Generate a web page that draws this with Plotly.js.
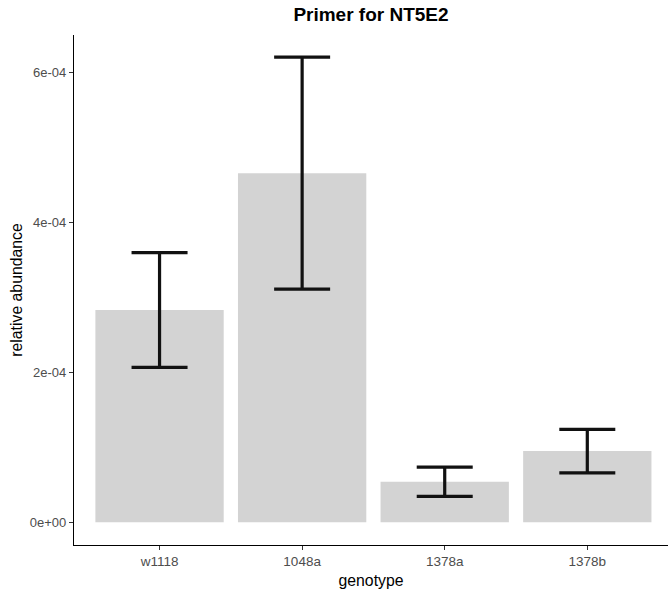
<!DOCTYPE html>
<html>
<head>
<meta charset="utf-8">
<script src="https://cdn.plot.ly/plotly-3.0.1.min.js"></script>
<style>html,body{margin:0;padding:0;background:#fff;}#chart{width:668px;height:592px;}</style>
</head>
<body>
<div id="chart"></div>
<script>
const genotypes = ["w1118", "1048a", "1378a", "1378b"];
const abundance = [2.83e-4, 4.655e-4, 5.4e-5, 9.5e-5];
const errorSize = [7.65e-5, 1.546e-4, 1.95e-5, 2.9e-5];
const yTickVals = [0, 2e-4, 4e-4, 6e-4];
const yTickText = ["0e+00", "2e-04", "4e-04", "6e-04"];

const trace = {
  type: "bar",
  x: genotypes,
  y: abundance,
  width: 0.9,
  marker: {color: "#D3D3D3", line: {width: 0}},
  error_y: {type: "data", array: errorSize, visible: true, color: "#111111", thickness: 3.2, width: 28},
  hoverinfo: "skip"
};

const layout = {
  width: 668, height: 592,
  margin: {l: 74, r: 0, t: 35, b: 47, pad: 0},
  paper_bgcolor: "#ffffff", plot_bgcolor: "#ffffff",
  font: {family: "Liberation Sans, Arial, sans-serif", color: "#4D4D4D"},
  showlegend: false,
  bargap: 0.1,
  title: {text: "<b>Primer for NT5E2</b>", font: {size: 19, color: "#000000"}, x: 0.5, xref: "paper", xanchor: "center", y: 0.976, yref: "container", yanchor: "middle"},
  xaxis: {
    type: "category", range: [-0.6, 3.566], fixedrange: true,
    showline: true, linecolor: "#000000", linewidth: 1.2,
    ticks: "outside", ticklen: 4, tickcolor: "#333333", tickwidth: 1,
    showgrid: false, zeroline: false,
    tickfont: {size: 13.5, color: "#4D4D4D"},
    title: {text: "genotype", font: {size: 15.8, color: "#000000"}, standoff: 6},
    automargin: false
  },
  yaxis: {
    range: [-3.03e-5, 6.497e-4], fixedrange: true,
    showline: true, linecolor: "#000000", linewidth: 1.2,
    ticks: "outside", ticklen: 4, tickcolor: "#333333", tickwidth: 1,
    tickvals: yTickVals, ticktext: yTickText,
    showgrid: false, zeroline: false,
    tickfont: {size: 13, color: "#4D4D4D"},
    title: {text: "relative abundance", font: {size: 15.8, color: "#000000"}, standoff: 3},
    automargin: false
  }
};

Plotly.newPlot("chart", [trace], layout, {displayModeBar: false, staticPlot: true});
</script>
</body>
</html>
